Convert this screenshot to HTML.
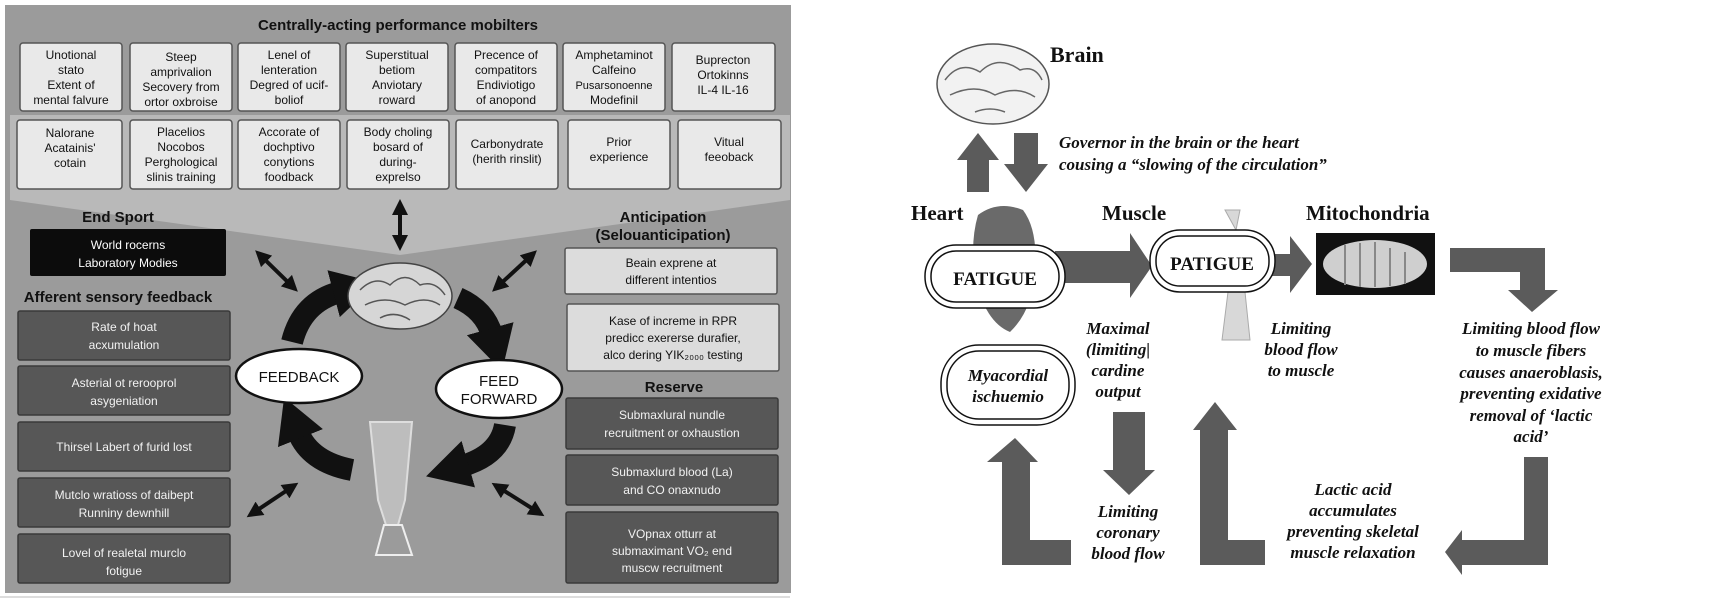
<!DOCTYPE html>
<html><head><meta charset="utf-8"><style>
html,body{margin:0;padding:0;background:#fff;}
svg{display:block}
.s{font-family:"Liberation Sans",sans-serif;}
.r{font-family:"Liberation Serif",serif;font-weight:bold;}
.ri{font-family:"Liberation Serif",serif;font-weight:bold;font-style:italic;}
</style></head><body>
<svg width="1720" height="600" viewBox="0 0 1720 600" xmlns="http://www.w3.org/2000/svg">
<defs>
<marker id="ah" markerWidth="4" markerHeight="4" refX="3" refY="2" orient="auto-start-reverse" markerUnits="strokeWidth"><path d="M0,0 L4,2 L0,4 z" fill="#111"/></marker>
<marker id="bh" markerWidth="2" markerHeight="2.2" refX="0.3" refY="1.1" orient="auto" markerUnits="strokeWidth"><path d="M0,0 L2,1.1 L0,2.2 z" fill="#111"/></marker>
</defs>
<!-- LEFT PANEL -->
<rect x="5" y="5" width="786" height="588" fill="#9b9b9b"/>
<polygon points="10,115 790,115 790,200 400,255 10,200" fill="#b9b9b9"/>
<text x="398" y="30" class="s" font-size="15" font-weight="bold" text-anchor="middle" fill="#111">Centrally-acting performance mobilters</text>
<g fill="#e9e9e9" stroke="#555" stroke-width="1.5">
<rect x="20" y="43" width="102" height="68" rx="3"/><rect x="130" y="43" width="102" height="68" rx="3"/><rect x="238" y="43" width="102" height="68" rx="3"/><rect x="346" y="43" width="102" height="68" rx="3"/><rect x="455" y="43" width="102" height="68" rx="3"/><rect x="563" y="43" width="102" height="68" rx="3"/><rect x="672" y="43" width="103" height="68" rx="3"/>
<rect x="17" y="120" width="105" height="69" rx="3"/><rect x="130" y="120" width="102" height="69" rx="3"/><rect x="238" y="120" width="102" height="69" rx="3"/><rect x="347" y="120" width="102" height="69" rx="3"/><rect x="456" y="120" width="102" height="69" rx="3"/><rect x="568" y="120" width="102" height="69" rx="3"/><rect x="678" y="120" width="103" height="69" rx="3"/>
</g>
<g class="s" font-size="12" fill="#111" text-anchor="middle">
<text x="71" y="59">Unotional</text><text x="71" y="74">stato</text><text x="71" y="89">Extent of</text><text x="71" y="104">mental falvure</text>
<text x="181" y="61">Steep</text><text x="181" y="76">amprivalion</text><text x="181" y="91">Secovery from</text><text x="181" y="106">ortor oxbroise</text>
<text x="289" y="59">Lenel of</text><text x="289" y="74">lenteration</text><text x="289" y="89">Degred of ucif-</text><text x="289" y="104">boliof</text>
<text x="397" y="59">Superstitual</text><text x="397" y="74">betiom</text><text x="397" y="89">Anviotary</text><text x="397" y="104">roward</text>
<text x="506" y="59">Precence of</text><text x="506" y="74">compatitors</text><text x="506" y="89">Endiviotigo</text><text x="506" y="104">of anopond</text>
<text x="614" y="59">Amphetaminot</text><text x="614" y="74">Calfeino</text><text x="614" y="89" font-size="11">Pusarsonoenne</text><text x="614" y="104">Modefinil</text>
<text x="723" y="64">Buprecton</text><text x="723" y="79">Ortokinns</text><text x="723" y="94">IL-4    IL-16</text>
<text x="70" y="137">Nalorane</text><text x="70" y="152">Acatainis'</text><text x="70" y="167">cotain</text>
<text x="181" y="136">Placelios</text><text x="181" y="151">Nocobos</text><text x="181" y="166">Perghological</text><text x="181" y="181">slinis training</text>
<text x="289" y="136">Accorate of</text><text x="289" y="151">dochptivo</text><text x="289" y="166">conytions</text><text x="289" y="181">foodback</text>
<text x="398" y="136">Body choling</text><text x="398" y="151">bosard of</text><text x="398" y="166">during-</text><text x="398" y="181">exprelso</text>
<text x="507" y="148">Carbonydrate</text><text x="507" y="163">(herith rinslit)</text>
<text x="619" y="146">Prior</text><text x="619" y="161">experience</text>
<text x="729" y="146">Vitual</text><text x="729" y="161">feeoback</text>
</g>
<text x="118" y="222" class="s" font-size="15" font-weight="bold" text-anchor="middle" fill="#111">End Sport</text>
<rect x="30" y="229" width="196" height="47" rx="2" fill="#0c0c0c"/>
<text x="128" y="249" class="s" font-size="12" fill="#fff" text-anchor="middle">World rocerns</text>
<text x="128" y="267" class="s" font-size="12" fill="#fff" text-anchor="middle">Laboratory Modies</text>
<text x="118" y="302" class="s" font-size="15" font-weight="bold" text-anchor="middle" fill="#111">Afferent sensory feedback</text>
<g fill="#575757" stroke="#3a3a3a" stroke-width="1.5">
<rect x="18" y="311" width="212" height="49" rx="2"/><rect x="18" y="366" width="212" height="49" rx="2"/><rect x="18" y="422" width="212" height="49" rx="2"/><rect x="18" y="478" width="212" height="49" rx="2"/><rect x="18" y="534" width="212" height="49" rx="2"/>
</g>
<g class="s" font-size="12" fill="#f2f2f2" text-anchor="middle">
<text x="124" y="331">Rate of hoat</text><text x="124" y="349">acxumulation</text>
<text x="124" y="387">Asterial ot rerooprol</text><text x="124" y="405">asygeniation</text>
<text x="124" y="451">Thirsel Labert of furid lost</text>
<text x="124" y="499">Mutclo wratioss of daibept</text><text x="124" y="517">Runniny dewnhill</text>
<text x="124" y="557">Lovel of realetal murclo</text><text x="124" y="575">fotigue</text>
</g>
<text x="663" y="222" class="s" font-size="15" font-weight="bold" text-anchor="middle" fill="#111">Anticipation</text>
<text x="663" y="240" class="s" font-size="15" font-weight="bold" text-anchor="middle" fill="#111">(Selouanticipation)</text>
<rect x="565" y="248" width="212" height="46" rx="2" fill="#dcdcdc" stroke="#555" stroke-width="1.5"/>
<text x="671" y="267" class="s" font-size="12" text-anchor="middle" fill="#111">Beain exprene at</text>
<text x="671" y="284" class="s" font-size="12" text-anchor="middle" fill="#111">different intentios</text>
<rect x="567" y="304" width="212" height="67" rx="2" fill="#dcdcdc" stroke="#555" stroke-width="1.5"/>
<text x="673" y="325" class="s" font-size="12" text-anchor="middle" fill="#111">Kase of increme in RPR</text>
<text x="673" y="342" class="s" font-size="12" text-anchor="middle" fill="#111">predicc exererse durafier,</text>
<text x="673" y="359" class="s" font-size="12" text-anchor="middle" fill="#111">alco dering YIK₂₀₀₀ testing</text>
<text x="674" y="392" class="s" font-size="15" font-weight="bold" text-anchor="middle" fill="#111">Reserve</text>
<g fill="#575757" stroke="#3a3a3a" stroke-width="1.5">
<rect x="566" y="398" width="212" height="51" rx="2"/><rect x="566" y="455" width="212" height="50" rx="2"/><rect x="566" y="512" width="212" height="71" rx="2"/>
</g>
<g class="s" font-size="12" fill="#f2f2f2" text-anchor="middle">
<text x="672" y="419">Submaxlural nundle</text><text x="672" y="437">recruitment or oxhaustion</text>
<text x="672" y="476">Submaxlurd blood (La)</text><text x="672" y="494">and CO onaxnudo</text>
<text x="672" y="538">VOpnax otturr at</text><text x="672" y="555">submaximant VO₂ end</text><text x="672" y="572">muscw recruitment</text>
</g>
<!-- center -->
<g stroke="#111" stroke-width="4" fill="none">
<line x1="400" y1="203" x2="400" y2="247" marker-end="url(#ah)" marker-start="url(#ah)"/>
<line x1="258" y1="253" x2="295" y2="289" marker-end="url(#ah)" marker-start="url(#ah)"/>
<line x1="534" y1="253" x2="495" y2="289" marker-end="url(#ah)" marker-start="url(#ah)"/>
<line x1="250" y1="515" x2="295" y2="485" marker-end="url(#ah)" marker-start="url(#ah)"/>
<line x1="495" y1="485" x2="541" y2="514" marker-end="url(#ah)" marker-start="url(#ah)"/>
</g>
<g stroke="#111" stroke-width="22" fill="none">
<path d="M292,342 Q302,302 340,292" marker-end="url(#bh)"/>
<path d="M458,298 Q485,310 492,335" marker-end="url(#bh)"/>
<path d="M352,470 Q310,462 298,432" marker-end="url(#bh)"/>
<path d="M505,425 Q500,455 462,466" marker-end="url(#bh)"/>
</g>
<ellipse cx="400" cy="296" rx="52" ry="33" fill="#d6d6d6" stroke="#444" stroke-width="1.5"/>
<path d="M360,290 q15,-15 30,-5 q15,-15 30,0 q15,-5 25,10 M365,305 q20,-10 40,0 q20,-10 35,0 M380,318 q15,-8 30,2" stroke="#555" fill="none" stroke-width="1.5"/>
<ellipse cx="299" cy="376" rx="63" ry="27" fill="#fff" stroke="#111" stroke-width="2.5"/>
<text x="299" y="382" class="s" font-size="15" text-anchor="middle" fill="#111">FEEDBACK</text>
<ellipse cx="499" cy="389" rx="63" ry="29" fill="#fff" stroke="#111" stroke-width="2.5"/>
<text x="499" y="386" class="s" font-size="15" text-anchor="middle" fill="#111">FEED</text>
<text x="499" y="404" class="s" font-size="15" text-anchor="middle" fill="#111">FORWARD</text>
<path d="M370,422 L412,422 L405,500 L398,525 L386,525 L378,500 Z" fill="#bdbdbd" stroke="#ddd" stroke-width="2"/>
<path d="M384,525 L402,525 L412,555 L376,555 Z" fill="none" stroke="#eee" stroke-width="2"/>
<line x1="0" y1="597" x2="790" y2="597" stroke="#ddd" stroke-width="2"/>

<!-- RIGHT PANEL -->
<ellipse cx="993" cy="84" rx="56" ry="40" fill="#f2f2f2" stroke="#555" stroke-width="1.5"/>
<path d="M945,80 q15,-20 35,-8 q18,-18 40,-2 q15,-5 22,10 M950,95 q25,-12 45,0 q22,-10 40,2 M975,112 q15,-6 30,0" stroke="#666" fill="none" stroke-width="1.5"/>
<text x="1050" y="62" class="r" font-size="22" fill="#111">Brain</text>
<g fill="#5b5b5b">
<polygon points="967,192 967,160 957,160 978,133 999,160 989,160 989,192"/>
<polygon points="1014,133 1038,133 1038,164 1048,164 1026,192 1004,164 1014,164"/>
</g>
<text x="1059" y="148" class="ri" font-size="17" fill="#111">Governor in the brain or the heart</text>
<text x="1059" y="170" class="ri" font-size="17" fill="#111">cousing a “slowing of the circulation”</text>
<text x="911" y="220" class="r" font-size="21" fill="#111">Heart</text>
<text x="1102" y="220" class="r" font-size="21" fill="#111">Muscle</text>
<text x="1306" y="220" class="r" font-size="21" fill="#111">Mitochondria</text>
<path d="M978,215 q20,-15 45,-5 q15,20 12,60 q-2,40 -25,62 q-25,-10 -35,-55 q-5,-35 3,-62z" fill="#6a6a6a"/>
<path d="M1225,210 L1240,210 L1236,230 Z M1228,292 L1245,292 L1250,340 L1222,340 Z" fill="#d8d8d8" stroke="#aaa" stroke-width="1"/>
<g fill="#5b5b5b">
<polygon points="1055,251 1130,251 1130,233 1152,266 1130,298 1130,283 1055,283"/>
<polygon points="1272,254 1290,254 1290,236 1312,264 1290,293 1290,276 1272,276"/>
<polygon points="1450,248 1545,248 1545,290 1558,290 1532,312 1508,290 1520,290 1520,272 1450,272"/>
<polygon points="1113,412 1145,412 1145,470 1155,470 1129,495 1103,470 1113,470"/>
<polygon points="1002,565 1002,462 987,462 1015,438 1038,462 1030,462 1030,540 1071,540 1071,565"/>
<polygon points="1200,565 1200,430 1193,430 1215,402 1237,430 1228,430 1228,540 1265,540 1265,565"/>
<polygon points="1548,457 1524,457 1524,540 1462,540 1462,530 1445,552 1462,575 1462,565 1548,565"/>
</g>
<rect x="925" y="245" width="140" height="63" rx="31" fill="#fff" stroke="#111" stroke-width="1.5"/>
<rect x="931" y="251" width="128" height="51" rx="25" fill="none" stroke="#111" stroke-width="1.5"/>
<text x="995" y="285" class="r" font-size="19" text-anchor="middle" fill="#111">FATIGUE</text>
<rect x="1150" y="230" width="125" height="62" rx="30" fill="#fff" stroke="#111" stroke-width="1.5"/>
<rect x="1156" y="236" width="113" height="50" rx="24" fill="none" stroke="#111" stroke-width="1.5"/>
<text x="1212" y="270" class="r" font-size="19" text-anchor="middle" fill="#111">PATIGUE</text>
<rect x="1316" y="233" width="119" height="62" fill="#111"/>
<ellipse cx="1375" cy="264" rx="52" ry="24" fill="#cfcfcf"/>
<g stroke="#888" stroke-width="2"><line x1="1345" y1="245" x2="1345" y2="285"/><line x1="1360" y1="243" x2="1360" y2="287"/><line x1="1375" y1="242" x2="1375" y2="287"/><line x1="1390" y1="248" x2="1390" y2="286"/><line x1="1405" y1="252" x2="1405" y2="284"/></g>
<rect x="941" y="345" width="134" height="80" rx="38" fill="#fff" stroke="#111" stroke-width="1.5"/>
<rect x="947" y="351" width="122" height="68" rx="32" fill="none" stroke="#111" stroke-width="1.5"/>
<text x="1008" y="381" class="ri" font-size="17" text-anchor="middle" fill="#111">Myacordial</text>
<text x="1008" y="402" class="ri" font-size="17" text-anchor="middle" fill="#111">ischuemio</text>
<g class="ri" font-size="17" fill="#111" text-anchor="middle">
<text x="1118" y="334">Maximal</text><text x="1118" y="355">(limiting|</text><text x="1118" y="376">cardine</text><text x="1118" y="397">output</text>
<text x="1301" y="334">Limiting</text><text x="1301" y="355">blood flow</text><text x="1301" y="376">to muscle</text>
<text x="1531" y="334">Limiting blood flow</text><text x="1531" y="356">to muscle fibers</text><text x="1531" y="378">causes anaeroblasis,</text><text x="1531" y="399">preventing exidative</text><text x="1531" y="421">removal of ‘lactic</text><text x="1531" y="442">acid’</text>
<text x="1128" y="517">Limiting</text><text x="1128" y="538">coronary</text><text x="1128" y="559">blood flow</text>
<text x="1353" y="495">Lactic acid</text><text x="1353" y="516">accumulates</text><text x="1353" y="537">preventing skeletal</text><text x="1353" y="558">muscle relaxation</text>
</g>
</svg>
</body></html>
